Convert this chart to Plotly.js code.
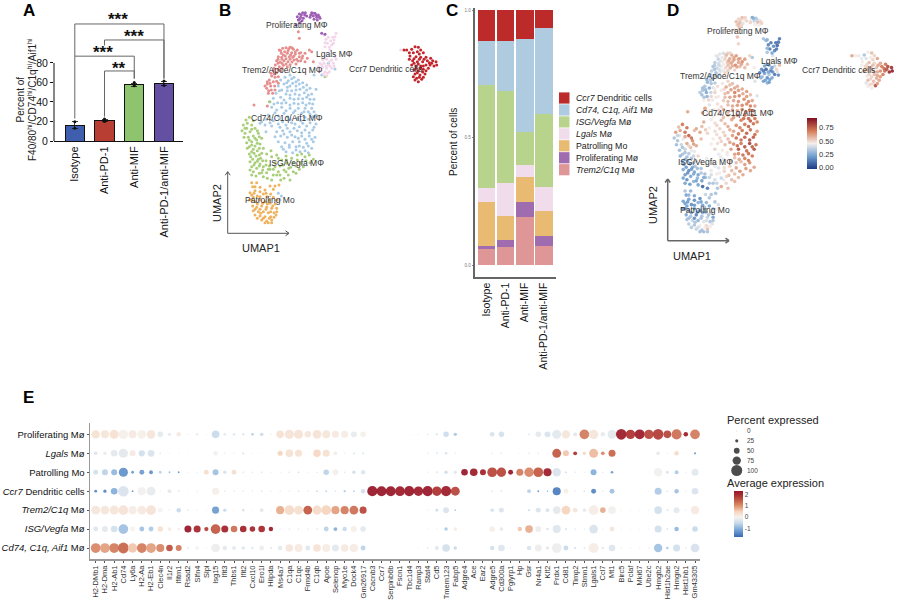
<!DOCTYPE html>
<html><head><meta charset="utf-8">
<script src="https://cdn.plot.ly/plotly-3.0.1.min.js"></script>
<style>html,body{margin:0;padding:0;background:#fff}</style></head>
<body><div id="chart" style="width:900px;height:601px"></div>
<script>
// ---------- Panel A ----------
const treatments = ['Isotype','Anti-PD-1','Anti-MIF','Anti-PD-1/anti-MIF'];
const pctHi = [16.4,21,57.7,59];
const pctHiErr = [3.5,1.3,1.7,2.3];
const pctHiRepA = [19.8,22.5,60,61.4];
const pctHiRepB = [13,20,56.7,57];
const barColors = ['#3f5fae','#b83d32','#8fc46f','#6350a3'];

// ---------- Panel C ----------
const fracTrem2 = [.063,.072,.188,.075];
const fracProlif = [.010,.025,.061,.040];
const fracPatrol = [.174,.095,.095,.097];
const fracLgals = [.055,.130,.049,.096];
const fracIsg = [.403,.361,.129,.286];
const fracCd74 = [.176,.198,.364,.338];
const fracCcr7 = [.119,.119,.114,.068];
const fracNames = ['<i>Trem2/C1q</i> Mø','Proliferating Mø','Patrolling Mo','<i>Lgals</i> Mø','<i>ISG/Vegfa</i> Mø','<i>Cd74, C1q, Aif1</i> Mø','<i>Ccr7</i> Dendritic cells'];
const fracColors = ['#df9696','#a06cb0','#e9ba72','#f0dcea','#b8d48c','#aecbe0','#bd2a2a'];

// ---------- Panels B and D: UMAP, [umap1, umap2, signature score] ----------
const umapTrem2 = [[265,95,.55],[268,115,.5],[132,315,.6],[172,318,.6],[208,150,.42],[218,145,.4],[228,143,.38],[240,142,.5],[250,148,.6],[262,150,.62],[272,158,.6],[278,168,.66],[214,160,.35],[224,155,.42],[234,152,.5],[245,158,.58],[256,162,.62],[268,170,.6],[205,170,.33],[215,172,.38],[226,168,.45],[238,170,.52],[248,172,.6],[260,178,.66],[272,182,.55],[200,182,.3],[210,186,.36],[222,182,.42],[234,185,.5],[246,186,.58],[258,192,.5],[196,195,.34],[208,200,.3],[220,196,.4],[232,200,.5],[285,160,.62],[292,175,.55],[305,155,.3],[298,150,.5],[310,185,.45],[285,185,.55],[190,212,.28],[200,218,.3],[212,212,.34],[185,228,.25],[195,232,.3],[205,230,.32],[178,240,.3],[190,245,.22],[200,244,.4],[172,252,.3],[182,258,.22],[194,258,.35],[170,265,.28],[184,270,.25],[175,280,.45],[188,280,.5],[195,270,.5],
 [212,152,.4],[236,147,.55],[246,143,.5],[256,155,.6],[268,160,.62],[220,165,.4],[232,160,.5],[242,165,.6],[252,168,.58],[264,183,.6],[276,175,.6],[204,178,.32],[216,178,.36],[228,176,.45],[240,178,.55],[252,180,.58],[204,190,.3],[216,190,.38],[228,192,.42],[240,194,.52],[192,205,.28],[204,208,.3],[216,205,.35],[183,220,.25],[193,222,.3],[172,245,.28],[180,250,.26],[176,272,.3],[165,258,.32],[205,250,.45]];
const umapCd74 = [[240,225,.5],[225,232,.46],[252,232,.55],[212,240,.48],[235,242,.6],[265,240,.58],[222,252,.45],[248,250,.62],[278,248,.6],[205,258,.5],[232,262,.55],[258,258,.68],[290,255,.62],[215,270,.45],[245,272,.6],[270,268,.66],[300,265,.55],[318,268,.4],[198,280,.42],[228,282,.52],[255,282,.6],[283,278,.65],[305,282,.6],[190,295,.4],[212,292,.48],[240,295,.55],[265,296,.62],[290,292,.66],[312,298,.6],[180,305,.5],[203,308,.45],[228,308,.58],[252,310,.62],[278,308,.66],[298,310,.7],[185,322,.48],[215,322,.52],[240,325,.6],[265,325,.66],[285,325,.72],[305,325,.75],[312,335,.7],[195,338,.45],[222,340,.55],[250,338,.6],[275,340,.68],[295,335,.74],[155,365,.6],[170,358,.55],[190,362,.45],[210,355,.5],[240,358,.58],[262,355,.65],[285,352,.7],[308,350,.72],[165,375,.6],[185,378,.5],[205,372,.48],[228,375,.5],[255,372,.6],[278,370,.7],[300,368,.72],[318,372,.62],[200,395,.45],[218,392,.5],[240,395,.55],[262,392,.72],[285,390,.75],[308,390,.75],[195,410,.45],[212,408,.48],[232,412,.55],[255,410,.65],[275,408,.7],[298,408,.82],[315,412,.72],[205,425,.5],[225,428,.45],[248,425,.62],[268,425,.78],[290,430,.72],[310,425,.78],[215,440,.42],[238,442,.45],[258,440,.62],[280,442,.72],[305,445,.7],[228,455,.4],[248,458,.5],[270,455,.6],[295,458,.7],[205,580,.3],[214,588,.38],[375,207,.15],[355,190,.3],[335,225,.2],[312,225,.4],[210,600,.45],[168,395,.55],[150,370,.55],
 [245,236,.55],[258,245,.6],[230,248,.5],[268,252,.62],[240,258,.58],[280,262,.6],[208,272,.46],[232,272,.55],[258,270,.63],[290,270,.62],[240,285,.55],[268,285,.63],[295,285,.66],[222,300,.5],[252,298,.6],[278,296,.66],[300,298,.68],[192,312,.42],[215,310,.5],[240,315,.58],[265,312,.62],[288,315,.7],[308,312,.7],[200,330,.44],[228,332,.55],[255,332,.62],[282,335,.72],[300,342,.75],[318,345,.68],[175,345,.58],[205,348,.48],[232,350,.55],[272,362,.68],[295,358,.74],[180,368,.52],[218,365,.5],[245,368,.58],[268,380,.7],[290,378,.75],[312,382,.72],[210,382,.48],[232,385,.52],[252,385,.62],[275,398,.72],[298,398,.78],[222,402,.5],[245,405,.6],[265,415,.72],[285,418,.78],[305,418,.75],[238,435,.46],[268,438,.66],[295,438,.72],[258,450,.55],[285,452,.68],[220,448,.42]];
const umapIsg = [[108,360,.55],[100,375,.62],[118,352,.7],[96,392,.3],[110,385,.4],[125,375,.72],[105,400,.3],[120,395,.42],[135,385,.75],[115,412,.35],[130,408,.6],[145,400,.65],[110,428,.28],[125,425,.35],[140,420,.55],[155,415,.6],[118,440,.3],[135,438,.32],[150,432,.42],[160,445,.5],[125,455,.25],[142,452,.28],[155,460,.5],[122,470,.2],[138,468,.18],[152,475,.3],[170,462,.4],[120,485,.22],[135,488,.15],[150,492,.2],[168,482,.3],[185,470,.45],[125,500,.18],[140,505,.22],[158,510,.25],[178,498,.28],[195,488,.42],[130,515,.15],[148,520,.25],[170,518,.18],[190,508,.35],[210,498,.45],[230,490,.5],[205,515,.38],[222,510,.35],[242,502,.55],[258,498,.55],[272,490,.62],[285,470,.62],[298,465,.65],[310,478,.6],[275,462,.55],[300,488,.6],[268,508,.55],[250,515,.55],[235,525,.5],[222,535,.6],[240,540,.55],[212,540,.3],[185,540,.1],[172,535,.05],[160,530,.2],[125,525,.2],[200,525,.3],[178,305,.6],[345,230,.25],[262,480,.6],[215,480,.4],[245,475,.5],[228,468,.45],[200,465,.42],[160,500,.2],[145,478,.22],[183,452,.42],
 [112,370,.6],[130,362,.72],[105,385,.35],[125,388,.6],[142,392,.72],[102,412,.28],[118,420,.3],[135,415,.5],[148,410,.62],[125,435,.3],[142,430,.42],[112,445,.25],[130,448,.28],[148,445,.35],[118,462,.2],[132,460,.22],[148,465,.28],[128,478,.18],[142,484,.18],[158,482,.28],[132,495,.15],[148,498,.22],[168,495,.3],[120,510,.2],[138,528,.18],[155,518,.2],[180,508,.3],[195,500,.38],[218,495,.45],[236,505,.5],[250,488,.55],[262,465,.55],[288,482,.62],[280,500,.6],[258,520,.55],[228,515,.42],[210,525,.35],[190,525,.3],[175,508,.22],[205,475,.42],[230,480,.48]];
const umapPatrol = [[125,548,.3],[140,548,.25],[128,560,.2],[180,558,.35],[207,555,.3],[190,568,.3],[135,572,.2],[150,575,.15],[125,585,.2],[142,588,.15],[160,582,.25],[172,590,.2],[190,592,.2],[200,600,.3],[125,600,.15],[135,605,.25],[150,600,.2],[165,605,.18],[180,610,.25],[195,612,.35],[128,618,.22],[140,622,.3],[155,618,.12],[170,622,.3],[185,625,.35],[200,625,.2],[130,632,.3],[145,635,.35],[160,635,.25],[175,638,.4],[192,638,.3],[135,645,.32],[150,648,.3],[165,650,.45],[182,650,.5],[198,645,.4],[155,660,.35],[170,663,.3],[185,660,.55],[175,668,.28],[150,628,.15],[120,578,.2],[165,570,.15],[178,600,.22],
 [132,580,.18],[150,590,.18],[168,580,.2],[182,582,.25],[130,592,.2],[142,612,.22],[158,610,.18],[172,612,.25],[188,618,.3],[135,628,.28],[152,640,.3],[168,628,.3],[182,635,.38],[200,635,.3],[142,655,.32],[160,655,.38],[178,655,.45],[192,652,.45],[165,668,.28],[185,668,.3],[135,560,.25],[195,558,.3],[150,562,.2],[118,600,.15]];
const umapCcr7 = [[590,150,.42],[605,148,.3],[615,140,.45],[625,142,.55],[632,150,.5],[610,158,.4],[622,155,.45],[640,158,.6],[600,168,.45],[618,170,.55],[632,172,.5],[648,172,.6],[662,175,.7],[608,182,.5],[622,185,.6],[638,185,.55],[652,182,.7],[668,182,.8],[678,185,.85],[605,195,.6],[618,198,.5],[632,198,.55],[648,195,.65],[660,195,.72],[672,198,.88],[612,210,.45],[625,212,.5],[640,208,.6],[655,205,.68],[615,222,.55],[630,225,.55],[645,222,.6],[620,235,.5],[635,238,.78],[625,245,.45],[610,230,.4],[582,150,.45],
 [598,158,.42],[628,162,.5],[612,176,.5],[628,178,.55],[642,178,.6],[658,188,.72],[612,190,.55],[625,192,.55],[640,198,.6],[665,190,.78],[618,205,.5],[632,205,.55],[648,212,.62],[622,218,.5],[638,216,.58],[628,232,.5],[640,232,.62],[615,240,.45],[598,178,.45],[680,195,.9]];
const umapLgals = [[378,100,.1],[368,112,.08],[342,105,.25],[348,118,.12],[362,122,.15],[372,120,.05],[352,130,.1],[365,135,.12],[345,140,.3],[360,150,.4],[338,180,.2],[350,178,.25],[365,180,.35],[378,178,.55],[330,190,.15],[342,190,.05],[355,195,.12],[370,190,.5],[325,200,.1],[338,202,.2],[350,205,.3],[365,205,.1],[332,212,.3],[345,215,.15],[358,215,.22],[350,228,.18],[340,222,.2],[572,150,.6],
 [375,110,.08],[355,112,.1],[370,130,.1],[358,142,.2],[345,175,.2],[358,185,.2],[372,198,.4],[335,195,.1],[348,198,.2],[360,198,.15],[328,215,.25],[352,220,.2],[375,170,.4],[345,128,.25]];
const umapProlif = [[268,42,.5],[278,38,.55],[284,45,.45],[272,52,.55],[265,60,.5],[280,55,.4],[270,68,.55],[262,50,.55],[305,38,.2],[315,40,.3],[325,45,.45],[310,48,.35],[320,52,.55],[330,55,.5],[312,58,.45],[302,45,.45],[335,100,.3],[345,103,.25],[290,48,.5],[258,75,.5],
 [274,44,.5],[286,38,.5],[268,58,.55],[276,62,.5],[318,45,.35],[308,40,.25],[328,50,.5],[300,52,.5],[322,60,.45]];
const umapColors = ['#e58e8e','#a9cbe6','#a9cf7a','#efb25f','#c4242c','#f3d6ea','#9f5fb5'];
const umapLabelsB = ['Proliferating MΦ','Lgals MΦ','Trem2/Apoe/C1q MΦ','Ccr7 Dendritic cells','Cd74/C1q/Aif1 MΦ','ISG/Vegfa MΦ','Patrolling Mo'];

// ---------- Panel E: dot plot ----------
const genes = ['H2-DMb1','H2-Dma','H2-Ab1','Cd74','Ly6a','H2-Aa','H2-Eb1','Clec4n','Il1r2','Ifitm1','Rsad2','Slfn4','Slpi','Isg15','Ifit3','Thbs1','Ifit2','Cxcl10','Ero1l','Hilpda','Ms4a7','C1qa','C1qc','Frmd4b','C1qb','Apoe','Selenop','Myo1e','Dock4','Gm26917','Cacnb3','Ccr7','Serpinb6b','Fscn1','Tbc1d4','Ramp3','Stat4','Cd5','Tmem123','Fabp5','Adgre4','Ace','Ear2','Adgre5','Cd300a','Pglyrp1','Hp','Gsr','Nr4a1','Klf2','Prdx1','Cd81','Timp2','Stmn1','Lgals1','Ccl7','Mt1','Birc5','Pclaf','Mki67','Ube2c','Hmgb2','Hist1h2ae','Hmgn2','Hist1hb1','Gm43305'];
const cellTypes = ['<i>Cd74, C1q, Aif1</i> Mø','<i>ISG/Vegfa</i> Mø','<i>Trem2/C1q</i> Mø','<i>Ccr7</i> Dendritic cells','Patrolling Mo','<i>Lgals</i> Mø','Proliferating Mø'];
const pctCd74 = [88,88,88,98,85,88,88,72,58,52, 14,30,8,78,38,32,28,20,42,16, 38,68,72,42,68,72,62,68,78,42, 3,3,3,4,4,6,12,32,68,28, 4,4,4,38,58,8,4,38,62,28, 88,42,16,12,92,20,58, 8,8,8,10,75,20,62,12,78];
const exprCd74 = [1.1,.9,1.2,1.4,.6,1.2,.9,1.1,1.6,1.2, -.2,-.05,-.1,-.1,-.2,-.2,-.25,-.2,-.1,-.2, -.2,.2,.15,-.25,.25,.1,-.2,.15,.1,-.6, 0,0,0,-.05,-.05,-.1,-.2,-.25,-.4,-.5, -.05,-.05,-.05,-.4,-.25,-.1,-.1,-.3,-.1,-.2, -.1,-.5,-.4,-.3,.1,-.2,-.25, -.1,-.1,-.1,-.2,-.8,-.7,-.4,-.2,-.35];
const pctIsg = [42,52,58,88,42,42,42,48,32,20, 62,62,36,88,62,58,58,48,58,38, 8,8,8,8,10,42,32,38,52,48, 3,3,3,3,4,4,6,8,28,30, 3,3,3,48,30,4,38,68,52,20, 72,8,8,7,78,7,42, 6,6,6,8,62,10,38,8,48];
const exprIsg = [-.25,-.2,-.4,-.8,.02,-.8,-.7,.3,.1,-.1, 2.3,2,1.8,1.5,2.1,1.3,2.1,2,2,2.2, -.3,-.5,-.5,-.5,-.5,-.6,-1,-.5,.05,-.2, 0,0,0,0,0,-.05,-.1,-.2,-.7,.1, -.05,-.05,-.05,.07,-.2,-.05,.6,.8,-.1,-.3, -.25,-1,-.5,-.3,-.3,-.2,.2, -.1,-.1,-.1,-.2,-.4,-.5,-.9,-.2,-.5];
const pctTrem2 = [78,78,82,88,72,78,88,42,10,38, 14,8,6,62,28,7,20,7,32,8, 72,88,78,78,82,88,72,72,78,62, 3,3,3,4,4,5,8,22,52,12, 3,3,3,28,42,4,4,12,42,32, 68,78,42,28,88,48,68, 6,6,6,8,68,14,52,8,72];
const exprTrem2 = [.2,.2,.2,.25,.1,.15,.25,.02,-.1,-.5, -.2,-.1,-.1,-1.2,-.5,-.1,-.3,-.1,-.2,-.1, .8,.4,.35,1.5,.4,.5,.9,1.2,1.3,1.7, 0,0,0,0,-.05,-.05,-.2,-.5,-.3,-.7, -.05,-.05,-.05,-.4,-.3,-.05,-.1,-.6,-.3,-.3, -.2,.5,.2,-.2,.1,.8,-.05, -.1,-.1,-.1,-.2,-.4,-.3,-.2,-.2,.15];
const pctCcr7 = [22,26,58,96,12,72,78,8,32,16, 4,8,4,62,8,8,8,8,10,8, 8,8,10,8,12,12,8,16,12,38, 92,90,90,88,92,85,92,85,92,80, 3,3,3,8,8,4,4,32,14,7, 72,42,8,12,42,8,42, 4,4,4,4,62,10,38,8,58];
const exprCcr7 = [-1.4,-1.4,-1,-.3,-1.3,-.05,-.15,-.2,-.2,-.1, -.1,-.2,-.1,.05,-.4,-.4,-.4,-.3,-.4,-.3, -.3,-.3,-.4,-.3,-.5,-.6,-.5,-.7,-.7,-.4, 2.3,2.3,2.3,2.2,2.3,2.2,2.3,1.9,2.2,1.7, -.1,-.1,-.1,-.6,-.6,-.1,-.1,-.6,-1.2,-1.2, -1.5,.05,-.3,-.3,-1.4,-.3,-.8, -.05,-.05,-.05,-.05,-.7,-.4,-.8,-.2,-.3];
const pctPatrol = [42,52,52,82,22,42,32,22,12,12, 5,8,42,52,28,42,16,8,8,5, 5,8,8,5,8,48,52,10,28,38, 3,3,3,3,3,5,8,12,28,28, 58,68,52,88,85,42,62,85,88,72, 75,8,8,7,52,8,20, 4,4,4,4,75,22,32,8,62];
const exprPatrol = [-.4,-.6,-.9,-1.3,-1.2,-1.2,-1.3,-.6,-.9,-1.3, -.2,-.2,.35,-.8,-.3,.35,-.1,-.3,-.5,-.3, -.3,-.4,-.6,-.2,-.3,-.6,.05,-.3,-.4,-.25, 0,0,0,0,0,-.1,-.2,-.3,-.4,-.2, 2.3,2.2,2.1,1.7,1.7,2.3,1.2,1.1,1.5,2.2, -.3,-.8,-.3,-.2,-1,-.3,-1.2, -.05,-.05,-.05,-.05,-.05,-.3,-.7,-.2,-.2];
const pctLgals = [28,30,58,82,52,55,60,12,6,8, 4,4,4,38,10,8,12,6,5,4, 44,68,62,7,66,62,32,8,12,12, 3,3,3,3,3,3,10,15,20,10, 3,3,3,8,10,4,7,10,10,8, 80,52,32,30,80,30,62, 4,4,4,4,28,8,38,5,16];
const exprLgals = [-.3,-.1,-.2,-.2,.15,-.4,-.3,-.2,-.2,-.1, -.1,-.1,-.1,-.05,-.2,-.2,-.5,-.2,-.1,-.1, .5,.3,.3,0,.45,.3,.1,-.2,-.4,-.4, 0,0,0,-.05,-.05,-.05,-.2,-.2,-.3,-.2, -.1,-.1,-.1,-.3,-.3,-.1,-.1,-.3,-.2,-.2, 1.5,.6,1.9,.4,.7,1.1,1.4, -.05,-.05,-.05,-.05,-.2,-.2,.4,-.1,-1.2];
const pctProlif = [75,72,82,85,72,78,78,48,28,38, 6,18,5,68,22,18,18,22,28,6, 68,82,82,58,78,72,62,62,52,48, 3,3,5,8,5,8,12,16,48,28, 2,4,5,42,48,5,3,12,48,52, 82,75,32,88,85,38,80, 96,85,90,85,96,68,92,38,88];
const exprProlif = [.3,.2,.3,.05,.15,.05,.2,-.2,-.15,.15, -.3,-.2,-.1,-.5,-.2,-.3,-.3,-.6,-.5,-.3, .3,.25,.25,.2,.25,.2,.15,.1,-.15,.05, 0,0,-.05,-.05,-.1,-.1,-.15,-.3,-.45,-.7, 0,0,-.05,-.3,-.35,-.1,0,-.3,-.2,-.3, -.2,.2,-.25,1.2,.2,-.15,-.2, 2.2,1.9,2.2,1.7,1.8,1.7,1.3,2.2,1.2];
const pctLegend = [0,25,50,75,100];

// ---------- helpers ----------
const W=900,H=601,FONT='"Liberation Sans", Arial, sans-serif';
const xd=(a,b)=>[a/W,b/W];
const yd=(a,b)=>[1-b/H,1-a/H];
const px=x=>x/W, py=y=>1-y/H;
const annos=[], shapes=[];
function note(text,x,y,size,o={}){annos.push(Object.assign({text,x:px(x),y:py(y),xref:'paper',yref:'paper',showarrow:false,
  font:{size,color:o.color||'#222',family:FONT},xanchor:'center',yanchor:'middle',borderpad:0},o));}
function seg(x0,y0,x1,y1,color,width){shapes.push({type:'line',xref:'paper',yref:'paper',x0:px(x0),y0:py(y0),x1:px(x1),y1:py(y1),line:{color,width}});}
function arrow(x0,y0,x1,y1,color,width){
  seg(x0,y0,x1,y1,color,width);
  const vertical=x0===x1;
  const a=vertical?[x1-2.5,y1+3.5]:[x1-3.5,y1-2.5], b=vertical?[x1+2.5,y1+3.5]:[x1-3.5,y1+2.5];
  seg(a[0],a[1],x1,y1,color,width); seg(b[0],b[1],x1,y1,color,width);
}
function bracket(x0,x1,y,leg0,leg1){
  for(const s of [[x0,y,x1,y],[x0,y,x0,leg0],[x1,y,x1,leg1]])
    shapes.push({type:'line',xref:'x',yref:'y',x0:s[0],y0:s[1],x1:s[2],y1:s[3],line:{color:'#666',width:1}});
}

const traces=[];
// ---- A
traces.push({type:'bar',x:treatments,y:pctHi,xaxis:'x',yaxis:'y',width:.65,
  marker:{color:barColors,line:{color:'#111',width:1}},
  error_y:{type:'data',array:pctHiErr,color:'#111',thickness:.8,width:3}});
for(const rep of [pctHiRepA,pctHiRepB]) traces.push({type:'scatter',mode:'markers',x:treatments,y:rep,xaxis:'x',yaxis:'y',marker:{color:'#111',size:3}});
bracket(0,3,120,87,64); bracket(1,3,103.6,98,64); bracket(0,2,87,23,64); bracket(1,2,71.8,25,64);
seg(54,63,54,141,'#111',1);
const starFont={font:{size:17,color:'#111',family:FONT,weight:700}};
note('***',118,20,17,starFont);
note('***',134.3,36.5,17,starFont);
note('***',103.3,52.5,17,starFont);
note('**',119.3,68,17,starFont);
note('Percent of',20.5,100,10,{textangle:-90});
note('F40/80<sup>hi</sup>/CD74<sup>hi</sup>/C1q<sup>hi</sup>/Aif1<sup>hi</sup>',32,100,10,{textangle:-90});

// ---- B
const groups=[umapTrem2,umapCd74,umapIsg,umapPatrol,umapCcr7,umapLgals,umapProlif];
groups.forEach((g,i)=>traces.push({type:'scatter',mode:'markers',x:g.map(p=>p[0]),y:g.map(p=>p[1]),xaxis:'x2',yaxis:'y2',
  marker:{color:umapColors[i],size:3}}));
[[297.3,25.3],[334,54.3],[282,69.7],[385.7,69.3],[286.7,118],[296.7,162.7],[270,200]].forEach((p,i)=>note(umapLabelsB[i],p[0],p[1],8.5,{color:'#333'}));
arrow(227.7,233.3,227.7,171.7,'#555',1); arrow(227.7,233.3,289,233.3,'#555',1);
note('UMAP1',261,248,11); note('UMAP2',217,203,11,{textangle:-90});

// ---- C
[fracTrem2,fracProlif,fracPatrol,fracLgals,fracIsg,fracCd74,fracCcr7].forEach((v,i)=>traces.push({type:'bar',name:fracNames[i],x:treatments,y:v,xaxis:'x3',yaxis:'y3',width:.9,marker:{color:fracColors[i]}}));
note('Percent of cells',453,142,10,{textangle:-90});
fracNames.slice().reverse().forEach((n,i)=>{
  const yc=98+i*11.95;
  shapes.push({type:'rect',xref:'paper',yref:'paper',x0:px(559),x1:px(569.5),y0:py(yc+5.6),y1:py(yc-5.6),fillcolor:fracColors[6-i],line:{width:0}});
  note(n,574.7,yc,8.8,{xanchor:'left'});
});

// ---- D
const allPts=groups.flat();
traces.push({type:'scatter',mode:'markers',x:allPts.map(p=>p[0]),y:allPts.map(p=>p[1]),xaxis:'x4',yaxis:'y4',
  marker:{size:3.6,color:allPts.map(p=>p[2]),cmin:-.05,cmax:.93,opacity:.9,
    colorscale:[[0,'#1d3a85'],[.25,'#6f9fcf'],[.5,'#f4efec'],[.75,'#d57a55'],[1,'#7f0f23']],
    colorbar:{x:px(807),xanchor:'left',xpad:0,y:py(144),yanchor:'middle',ypad:0,thickness:10,thicknessmode:'pixels',len:50.5,lenmode:'pixels',
      outlinewidth:0,ticks:'',tickvals:[0,.25,.5,.75],ticktext:['0.00','0.25','0.50','0.75'],tickfont:{size:7.5,color:'#333',family:FONT}}}});
[[738.3,31],[779.3,61],[720,76.3],[838.3,69.7],[738,112.7],[705,162.3],[705,209.7]].forEach((p,i)=>note(umapLabelsB[i],p[0],p[1],8.5,{color:'#333'}));
arrow(667.7,240.7,667.7,179,'#666',1.5); arrow(667.7,240.7,729,240.7,'#666',1.5);
note('UMAP1',692,255.7,11); note('UMAP2',653,205,11,{textangle:-90});

// ---- E
const rowPct=[pctCd74,pctIsg,pctTrem2,pctCcr7,pctPatrol,pctLgals,pctProlif];
const rowExpr=[exprCd74,exprIsg,exprTrem2,exprCcr7,exprPatrol,exprLgals,exprProlif];
const dotX=[],dotY=[],dotS=[],dotC=[];
const dia=p=>.5+.105*p;
rowPct.forEach((r,i)=>r.forEach((p,j)=>{dotX.push(genes[j]);dotY.push(cellTypes[i]);dotS.push(dia(p));dotC.push(rowExpr[i][j]);}));
traces.push({type:'scatter',mode:'markers',x:dotX,y:dotY,xaxis:'x5',yaxis:'y5',cliponaxis:false,
  marker:{size:dotS,sizemode:'diameter',color:dotC,cmin:-1.74,cmax:2.33,opacity:.95,line:{width:0},
    colorscale:[[0,'#3569b3'],[.18,'#85afdb'],[.3,'#c6daec'],[.4275,'#f6f2ee'],[.55,'#f6d5bf'],[.67,'#de9470'],[.8,'#c25a45'],[.92,'#a82a30'],[1,'#98182a']],
    colorbar:{x:px(733.7),xanchor:'left',xpad:0,y:py(513.8),yanchor:'middle',ypad:0,thickness:9,thicknessmode:'pixels',len:45.7,lenmode:'pixels',
      outlinewidth:0,ticks:'',tickvals:[-1,0,1,2],ticktext:['-1','0','1','2'],tickfont:{size:6.5,color:'#444',family:FONT}}}});
traces.push({type:'scatter',mode:'markers',x:pctLegend.map(()=>'pct'),y:pctLegend,xaxis:'x6',yaxis:'y6',cliponaxis:false,
  marker:{size:pctLegend.map(dia),color:'#000',line:{width:0}}});
note('Percent expressed',726,420,11,{xanchor:'left'});
note('Average expression',726,483.5,11,{xanchor:'left'});

// ---- panel letters
const letter={font:{size:17,color:'#000',family:FONT,weight:700},yanchor:'top'};
[['A',28.5,-0.5],['B',224.5,-0.5],['C',451.5,-0.5],['D',673,-0.5],['E',28.5,387]].forEach(l=>note(l[0],l[1],Math.max(l[2],0),17,letter));

const hidden={visible:false,fixedrange:true};
const layout={width:W,height:H,margin:{l:0,r:0,t:0,b:0,autoexpand:false},paper_bgcolor:'#fff',plot_bgcolor:'rgba(0,0,0,0)',showlegend:false,barmode:'stack',
  font:{family:FONT,color:'#222'},annotations:annos,shapes,
  // A
  xaxis:{domain:xd(54,183),type:'category',categoryorder:'array',categoryarray:treatments,range:[-.7,3.64],anchor:'y',showline:true,linecolor:'#111',linewidth:1,ticks:'',tickangle:-90,tickfont:{size:11,color:'#111'},zeroline:false},
  yaxis:{domain:yd(19.1,141),range:[0,125],anchor:'x',tickmode:'array',tickvals:[0,20,40,60,80],ticks:'outside',ticklen:3,tickcolor:'#111',tickfont:{size:10.5,color:'#111'},showgrid:false,zeroline:false,showline:false},
  // B
  xaxis2:Object.assign({domain:xd(210,470),range:[0,780],anchor:'y2'},hidden),
  yaxis2:Object.assign({domain:yd(0,250),range:[750,0],anchor:'x2'},hidden),
  // C
  xaxis3:{domain:xd(474.7,555.7),type:'category',categoryorder:'array',categoryarray:treatments,range:[-.63,3.61],anchor:'y3',showline:true,linecolor:'#666',linewidth:1.5,ticks:'',tickangle:-90,tickfont:{size:10.5,color:'#111'},zeroline:false,showgrid:false},
  yaxis3:{domain:yd(8,277),range:[-.047,1.009],anchor:'x3',tickmode:'array',tickvals:[0,.5,1],ticktext:['0.0','0.5','1.0'],ticks:'outside',ticklen:1.5,tickcolor:'#888',tickfont:{size:4.5,color:'#777'},showline:true,linecolor:'#666',linewidth:1.5,showgrid:false,zeroline:false},
  // D
  xaxis4:Object.assign({domain:xd(638.4,900),range:[0,700.7],anchor:'y4'},hidden),
  yaxis4:Object.assign({domain:yd(4.74,259.7),range:[750,0],anchor:'x4'},hidden),
  // E
  xaxis5:{domain:xd(90,700),type:'category',categoryorder:'array',categoryarray:genes,range:[-.62,65.54],anchor:'y5',tickmode:'array',tickvals:genes,ticktext:genes,tickangle:-90,tickfont:{size:7.5,color:'#333'},ticks:'outside',ticklen:2,tickcolor:'#555',showline:true,linecolor:'#999',linewidth:1.5,showgrid:false,zeroline:false},
  yaxis5:{domain:yd(423,559),type:'category',categoryorder:'array',categoryarray:cellTypes,range:[-.58,6.6],anchor:'x5',tickfont:{size:9.5,color:'#111'},ticks:'outside',ticklen:2,tickcolor:'#555',showline:true,linecolor:'#999',linewidth:1.5,showgrid:false,zeroline:false},
  // percent legend
  xaxis6:Object.assign({domain:xd(727.5,746),type:'category',anchor:'y6'},hidden),
  yaxis6:{domain:yd(431,470.5),range:[100,0],anchor:'x6',side:'right',tickmode:'array',tickvals:pctLegend,ticks:'',tickfont:{size:6.5,color:'#444'},showgrid:false,zeroline:false,showline:false}
};
Plotly.newPlot('chart',traces,layout,{displayModeBar:false,staticPlot:true});
</script></body></html>
